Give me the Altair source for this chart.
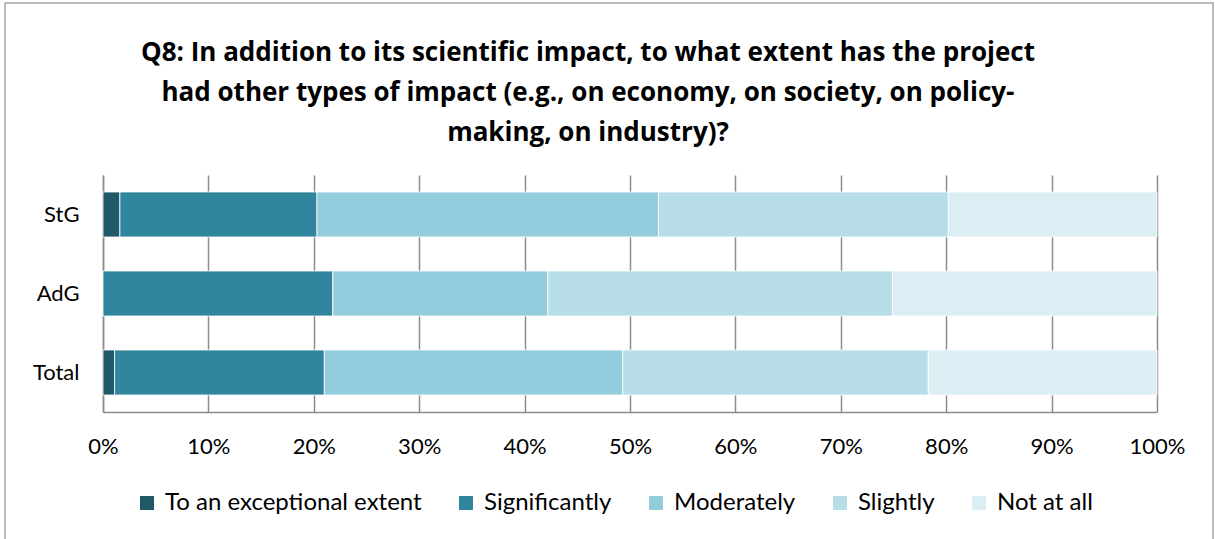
import altair as alt
import pandas as pd

groups = ["StG", "AdG", "Total"]
levels = ["To an exceptional extent", "Significantly", "Moderately", "Slightly", "Not at all"]
colors = ["#215968", "#31859C", "#93CDDD", "#B7DEE8", "#DBEEF4"]
stg = [1.6, 18.7, 32.4, 27.5, 19.8]
adg = [0.0, 21.8, 20.4, 32.7, 25.1]
total = [1.1, 19.9, 28.3, 29.0, 21.7]
ticks = [0, 0.1, 0.2, 0.3, 0.4, 0.5, 0.6, 0.7, 0.8, 0.9, 1.0]
title_lines = [
    "Q8: In addition to its scientific impact, to what extent has the project",
    "had other types of impact (e.g., on economy, on society, on policy-",
    "making, on industry)?",
]

rows = []
for g, vals in zip(groups, [stg, adg, total]):
    for i, (lvl, v) in enumerate(zip(levels, vals)):
        rows.append({"group": g, "level": lvl, "order": i, "value": v / 100.0})
df = pd.DataFrame(rows)

FONT = "Lato"
TFONT = "Open Sans"

bars = alt.Chart(df).mark_bar(stroke="white", strokeWidth=0.8).encode(
    y=alt.Y("group:N", sort=groups, title=None,
            scale=alt.Scale(paddingInner=0.43, paddingOuter=0.215),
            axis=alt.Axis(labelFontSize=22, labelFont=FONT, labelColor="#000000",
                          ticks=False, labelPadding=24, domainColor="#8c8c8c",
                          domainWidth=1.5)),
    x=alt.X("value:Q", stack="zero", title=None,
            scale=alt.Scale(domain=[0, 1], nice=False),
            axis=alt.Axis(format=".0%", values=ticks, labelFontSize=22, labelFont=FONT,
                          labelColor="#000000", grid=True, gridColor="#8c8c8c",
                          gridWidth=1.5, ticks=False, labelPadding=24,
                          domainColor="#8c8c8c", domainWidth=1.5, labelFlush=False)),
    color=alt.Color("level:N", sort=levels,
                    scale=alt.Scale(domain=levels, range=colors),
                    legend=alt.Legend(title=None, orient="none", direction="horizontal",
                                      legendX=32, legendY=316, symbolType="square",
                                      symbolSize=196, symbolStrokeWidth=0,
                                      labelFontSize=24, labelFont=FONT,
                                      labelColor="#000000", columnPadding=32,
                                      labelOffset=6, labelLimit=400)),
    order=alt.Order("order:Q"),
)

frame = alt.Chart(pd.DataFrame({"k": [0]})).mark_rect(
    fill=None, stroke="#a6a6a6", strokeWidth=1.5
).encode(x=alt.value(-98), x2=alt.value(1110), y=alt.value(-172), y2=alt.value(370))

chart = alt.layer(frame, bars).properties(
    width=1054,
    height=237,
    autosize=alt.AutoSizeParams(type="none"),
    padding={"left": 103, "top": 175, "right": 58, "bottom": 127},
    title=alt.TitleParams(text=title_lines, fontSize=26, font=TFONT, fontWeight="bold",
                          color="#000000", anchor="middle", lineHeight=40,
                          offset=-144, dx=-42, frame="group"),
).configure_view(stroke=None)

chart.save("out.html", embed_options={"renderer": "svg", "actions": False})
